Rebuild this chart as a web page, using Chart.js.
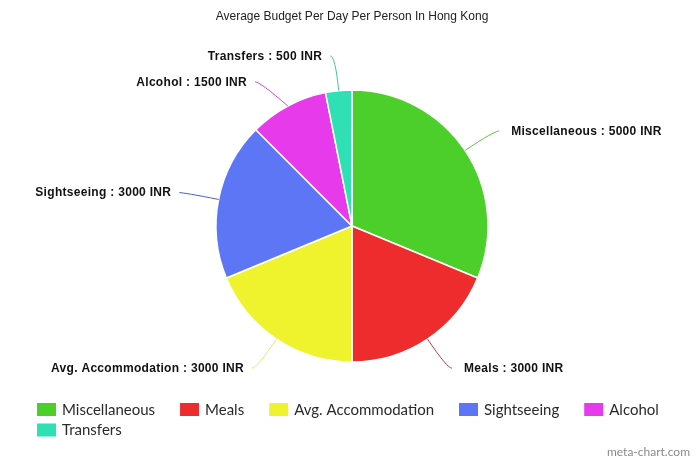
<!DOCTYPE html>
<html>
<head>
<meta charset="utf-8">
<title>Average Budget Per Day Per Person In Hong Kong</title>
<script src="https://cdn.jsdelivr.net/npm/chart.js@4.4.1/dist/chart.umd.min.js"></script>
<style>
  html, body { margin: 0; padding: 0; background: #fff; }
  #wrap { width: 700px; height: 466px; }
</style>
</head>
<body>
<div id="wrap">
  <canvas id="budgetChart" width="700" height="466"></canvas>
</div>
<script>
// data
const categories = ['Miscellaneous', 'Meals', 'Avg. Accommodation', 'Sightseeing', 'Alcohol', 'Transfers'];
const budgetInr = [5000, 3000, 3000, 3000, 1500, 500];
const unitLabel = 'INR';
const sliceColors = ['#4dcf2b', '#ee2b2d', '#eff32e', '#5d76f6', '#e63aeb', '#2ee0b4'];
const lineColors = ['#64c048', '#b8403e', '#e4e86a', '#4b5fbf', '#d246d6', '#3cc9a6'];

// leader lines + outside labels
const outsideLabels = {
    id: 'outsideLabels',
    afterDatasetsDraw(chart) {
        const ctx = chart.ctx;
        const meta = chart.getDatasetMeta(0);
        let cx0 = 0, cy0 = 0, r2 = 0;
        const items = meta.data.map((arc, i) => {
            const p = arc.getProps(['x', 'y', 'startAngle', 'endAngle', 'outerRadius'], true);
            const mid = (p.startAngle + p.endAngle) / 2;
            const cos = Math.cos(mid), sin = Math.sin(mid);
            cx0 = p.x; cy0 = p.y;
            r2 = p.outerRadius + 35;
            return {
                i: i,
                right: cos >= 0,
                sx: p.x + cos * p.outerRadius, sy: p.y + sin * p.outerRadius,
                cx: p.x + cos * r2, cy: p.y + sin * r2
            };
        });

        // push labels apart on each side so they do not crowd
        [true, false].forEach(side => {
            const group = items.filter(it => it.right === side).sort((a, b) => a.cy - b.cy);
            for (let k = 1; k < group.length; k++) {
                if (group[k].cy - group[k - 1].cy < 26) {
                    group[k].cy = group[k - 1].cy + 26;
                    const dy = group[k].cy - cy0;
                    const dx = Math.sqrt(Math.max(r2 * r2 - dy * dy, 0));
                    group[k].cx = cx0 + (side ? dx : -dx);
                }
            }
        });

        ctx.save();
        ctx.font = 'bold 12px "Liberation Sans", Arial, sans-serif';
        ctx.letterSpacing = '0.3px';
        ctx.textBaseline = 'middle';
        items.forEach(it => {
            const dir = it.right ? 1 : -1;
            const ex = it.cx + dir * 5;
            ctx.beginPath();
            ctx.moveTo(it.sx, it.sy);
            ctx.quadraticCurveTo(it.cx, it.cy, ex, it.cy);
            ctx.strokeStyle = lineColors[it.i];
            ctx.lineWidth = 1;
            ctx.stroke();

            ctx.fillStyle = '#111';
            ctx.textAlign = it.right ? 'left' : 'right';
            const txt = categories[it.i] + ' : ' + budgetInr[it.i] + ' ' + unitLabel;
            ctx.fillText(txt, ex + (it.right ? 12 : -8), it.cy + 0.5);
        });
        ctx.restore();
    }
};

// legend at the bottom, left aligned, wrapping rows
const bottomLegend = {
    id: 'bottomLegend',
    afterDraw(chart) {
        const ctx = chart.ctx;
        ctx.save();
        ctx.font = '15px Lato, sans-serif';
        ctx.textBaseline = 'middle';
        ctx.textAlign = 'left';
        let x = 37;
        let y = 409.5;
        categories.forEach((name, i) => {
            const w = 19 + 6 + ctx.measureText(name).width;
            if (x + w > 690) {
                x = 37;
                y += 20.5;
            }
            ctx.fillStyle = sliceColors[i];
            ctx.fillRect(x, y - 6.5, 19, 13);
            ctx.fillStyle = '#2a2a2a';
            ctx.fillText(name, x + 25, y + 0.5);
            x += w + 25;
        });

        ctx.font = '12px Lato, sans-serif';
        ctx.fillStyle = '#8a8a8a';
        ctx.textAlign = 'right';
        ctx.fillText('meta-chart.com', 690, 452);
        ctx.restore();
    }
};

const canvasRef = document.getElementById('budgetChart').getContext('2d');

new Chart(canvasRef, {
    type: 'pie',
    data: {
        labels: categories,
        datasets: [
            {
                data: budgetInr,
                backgroundColor: sliceColors,
                borderColor: '#ffffff',
                borderWidth: 1.5
            }
        ]
    },
    options: {
        responsive: false,
        animation: false,
        radius: 136,
        events: [],
        layout: {
            padding: { top: 0, bottom: 102.4, left: 104, right: 100 }
        },
        plugins: {
            legend: { display: false },
            tooltip: { enabled: false },
            title: {
                display: true,
                text: 'Average Budget Per Day Per Person In Hong Kong',
                color: '#222',
                font: { family: '"Liberation Sans", Arial, sans-serif', size: 12, weight: 'normal' },
                padding: { top: 9, bottom: 65 }
            }
        }
    },
    plugins: [outsideLabels, bottomLegend]
});
</script>
</body>
</html>
